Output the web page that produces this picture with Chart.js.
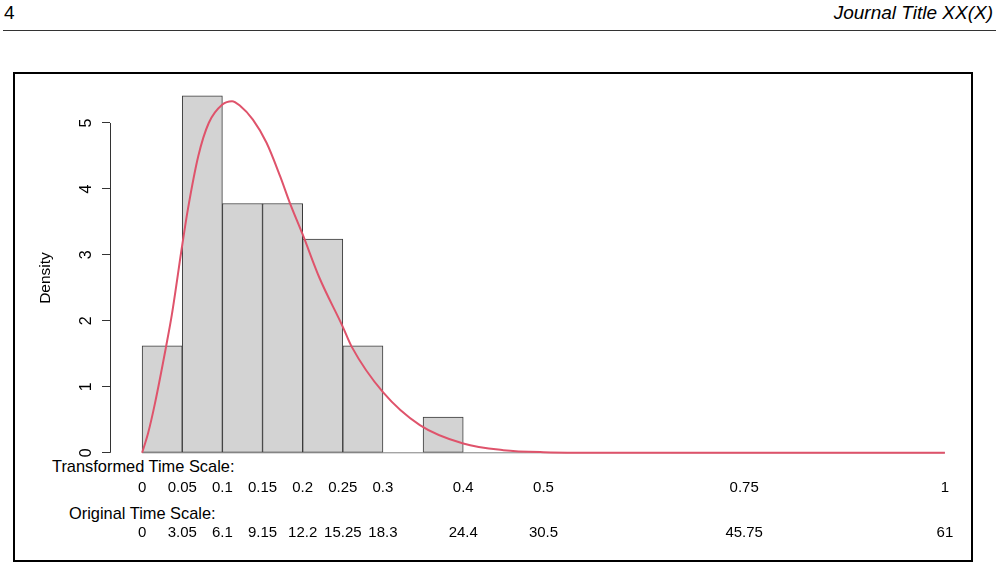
<!DOCTYPE html>
<html lang="en">
<head>
    <meta charset="UTF-8">
    <title>Density histogram</title>
    <script src="https://cdn.jsdelivr.net/npm/chart.js"></script>
    <style>
        body { margin: 0; width: 999px; height: 568px; background: #fff; position: relative; overflow: hidden;
               font-family: "Liberation Sans", Arial, sans-serif; color: #000; }
        .page-num { position: absolute; left: 4px; top: 2px; font-size: 19px; }
        .journal { position: absolute; right: 6px; top: 2px; font-size: 19px; font-style: italic; }
        .rule { position: absolute; left: 3px; right: 3px; top: 30px; border-top: 1px solid #333; }
        .frame { position: absolute; left: 13px; top: 72px; width: 956px; height: 486px; border: 2px solid #000; }
        #chartBox { position: absolute; left: 0; top: 0; width: 999px; height: 568px; }
        .axis-note { position: absolute; font-size: 16.4px; white-space: nowrap; }
    </style>
</head>
<body>
    <div class="page-num">4</div>
    <div class="journal">Journal Title XX(X)</div>
    <div class="rule"></div>
    <div class="frame"></div>
    <div class="axis-note" style="left:52px; top:457px;">Transformed Time Scale:</div>
    <div class="axis-note" style="left:69px; top:504px;">Original Time Scale:</div>
    <div id="chartBox"><canvas id="histChart"></canvas></div>

<script>
    // histogram bins (width 0.05), density values
    const binMids = [0.025, 0.075, 0.125, 0.175, 0.225, 0.275, 0.325, 0.375];
    const binDensity = [1.62, 5.41, 3.78, 3.78, 3.24, 1.62, 0, 0.54];

    // fitted density curve
    const curveX = [0, 0.0075, 0.016, 0.03, 0.037, 0.05, 0.057, 0.07, 0.083, 0.1, 0.112, 0.122, 0.138,
                    0.155, 0.172, 0.184, 0.2, 0.221, 0.25, 0.261, 0.3, 0.346, 0.4, 0.45, 0.5, 0.6, 0.8, 1];
    const curveY = [0, 0.3, 0.75, 1.62, 2.09, 3.15, 3.69, 4.5, 5.0, 5.28, 5.33, 5.26, 5.05,
                    4.7, 4.19, 3.79, 3.31, 2.65, 1.91, 1.61, 0.92, 0.42, 0.14, 0.04, 0.01, 0, 0, 0];

    const baseX = [0, 1];
    const baseY = [0, 0];

    const tickValues = [0, 0.05, 0.1, 0.15, 0.2, 0.25, 0.3, 0.4, 0.5, 0.75, 1];
    const transformedLabels = ['0', '0.05', '0.1', '0.15', '0.2', '0.25', '0.3', '0.4', '0.5', '0.75', '1'];
    const originalLabels = ['0', '3.05', '6.1', '9.15', '12.2', '15.25', '18.3', '24.4', '30.5', '45.75', '61'];
    const densityTicks = [0, 1, 2, 3, 4, 5];

    Chart.defaults.font.family = '"Liberation Sans", Arial, sans-serif';
    Chart.defaults.font.size = 15;
    Chart.defaults.color = '#000';

    // R style axis line: only from first to last tick
    const rAxisLine = {
        id: 'rAxisLine',
        afterDraw(chart) {
            const ys = chart.scales.y;
            const ctx = chart.ctx;
            const x = Math.round(ys.right) + 0.5;
            ctx.save();
            ctx.strokeStyle = '#333';
            ctx.lineWidth = 1;
            ctx.beginPath();
            ctx.moveTo(x, ys.getPixelForValue(densityTicks[0]));
            ctx.lineTo(x, ys.getPixelForValue(densityTicks[densityTicks.length - 1]));
            ctx.stroke();
            ctx.restore();
        }
    };

    const ctx = document.getElementById('histChart').getContext('2d');

    const histChart = new Chart(ctx, {
        type: 'bar',
        data: {
            datasets: [
                {
                    type: 'line',
                    data: curveX.map((x, i) => ({ x: x, y: curveY[i] })),
                    borderColor: '#DF536B',
                    borderWidth: 2,
                    pointRadius: 0,
                    cubicInterpolationMode: 'monotone',
                    order: 0
                },
                {
                    type: 'line',
                    data: baseX.map((x, i) => ({ x: x, y: baseY[i] })),
                    borderColor: '#808080',
                    borderWidth: 1,
                    pointRadius: 0,
                    order: 1
                },
                {
                    type: 'bar',
                    data: binMids.map((x, i) => ({ x: x, y: binDensity[i] })),
                    backgroundColor: '#d3d3d3',
                    borderColor: '#3a3a3a',
                    borderWidth: 1,
                    borderSkipped: false,
                    barPercentage: 1,
                    categoryPercentage: 1,
                    order: 2
                }
            ]
        },
        options: {
            responsive: true,
            maintainAspectRatio: false,
            animation: false,
            layout: { padding: { left: 10, right: 22, top: 90, bottom: 12 } },
            plugins: { legend: { display: false }, tooltip: { enabled: false } },
            scales: {
                x: {
                    type: 'linear',
                    position: 'bottom',
                    weight: 0,
                    offset: false,
                    min: -0.04,
                    max: 1.04,
                    grid: { display: false, drawTicks: false, tickLength: 0 },
                    border: { display: false },
                    afterBuildTicks: (scale) => { scale.ticks = tickValues.map(v => ({ value: v })); },
                    afterFit: (scale) => { scale.height = 45; },
                    ticks: {
                        autoSkip: false,
                        maxRotation: 0,
                        minRotation: 0,
                        padding: 13,
                        callback: (value, index) => transformedLabels[index]
                    }
                },
                x2: {
                    type: 'linear',
                    position: 'bottom',
                    weight: 1,
                    offset: false,
                    min: -0.04,
                    max: 1.04,
                    grid: { display: false, drawTicks: false, tickLength: 0 },
                    border: { display: false },
                    afterBuildTicks: (scale) => { scale.ticks = tickValues.map(v => ({ value: v })); },
                    afterFit: (scale) => { scale.height = 45; },
                    ticks: {
                        autoSkip: false,
                        maxRotation: 0,
                        minRotation: 0,
                        padding: 13,
                        callback: (value, index) => originalLabels[index]
                    }
                },
                y: {
                    min: -0.2,
                    max: 5.5,
                    afterBuildTicks: (scale) => { scale.ticks = densityTicks.map(v => ({ value: v })); },
                    afterFit: (scale) => { scale.width = 100; },
                    grid: { display: true, drawOnChartArea: false, drawTicks: true, tickLength: 8, color: '#333' },
                    border: { display: false },
                    title: { display: true, text: 'Density', font: { size: 15.5 }, padding: { top: 26, bottom: 0 } },
                    ticks: {
                        minRotation: 90,
                        maxRotation: 90,
                        crossAlign: 'center',
                        padding: 11,
                        font: { size: 16 }
                    }
                }
            }
        },
        plugins: [rAxisLine]
    });
</script>
</body>
</html>
